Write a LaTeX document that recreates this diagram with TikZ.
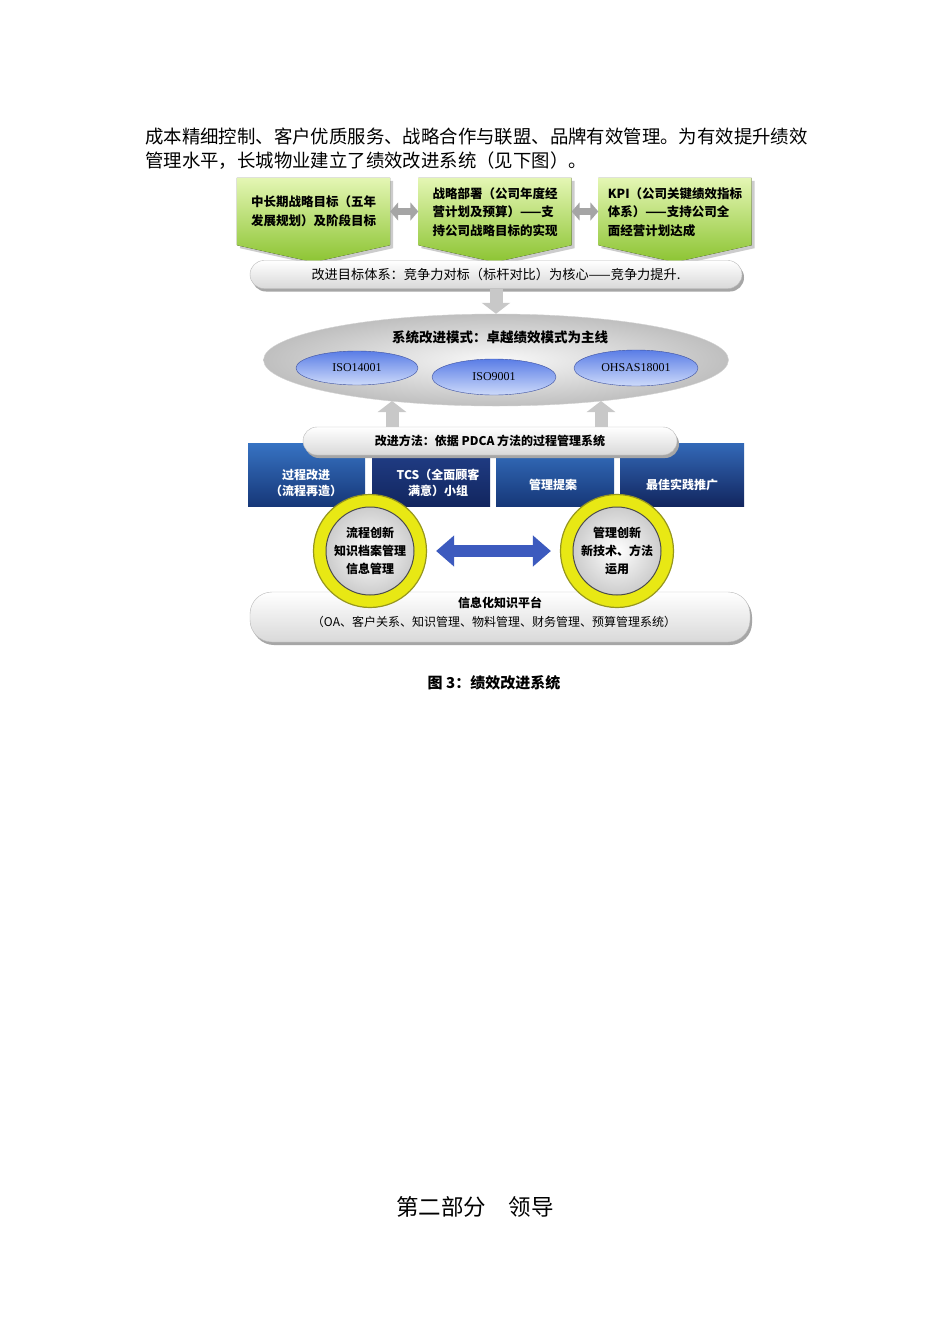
\documentclass[tikz,border=0pt]{standalone}
\usepackage{fontspec}
\setmainfont{Noto Sans CJK SC}
\newfontfamily\isofont{Liberation Serif}
\usetikzlibrary{arrows.meta,shapes.geometric,shadows,backgrounds,calc}

\definecolor{greenhi}{RGB}{228,246,180}
\definecolor{greenlo}{RGB}{140,196,50}
\definecolor{isohi}{RGB}{90,125,230}
\definecolor{isolo}{RGB}{205,218,250}
\definecolor{isoedge}{RGB}{60,80,160}
\definecolor{bluehi}{RGB}{55,115,195}
\definecolor{bluelo}{RGB}{22,55,120}
\definecolor{navyhi}{RGB}{35,65,140}
\definecolor{navylo}{RGB}{18,38,95}
\definecolor{ringyellow}{RGB}{232,232,20}
\definecolor{ringedge}{RGB}{150,150,30}
\definecolor{arrgray}{RGB}{165,165,165}
\definecolor{upgray}{RGB}{200,200,200}
\definecolor{arrblue}{RGB}{60,90,190}

\begin{document}
\begin{tikzpicture}[x=1pt, y=-1pt,
    goalbox/.style={minimum width=153pt, minimum height=67pt, inner sep=0pt, align=left, font=\fontsize{12.5}{18.5}\selectfont\bfseries},
    goalfill/.style={top color=greenhi, bottom color=greenlo, drop shadow={shadow xshift=3pt, shadow yshift=-3pt, opacity=0.4}},
    pill/.style={draw=gray!55, rounded corners=14pt, top color=white, bottom color=gray!30, drop shadow={shadow xshift=2pt, shadow yshift=-3pt, fill=gray!70, opacity=1}},
    isoell/.style={ellipse, draw=isoedge, top color=isohi, bottom color=isolo, inner sep=0pt, font=\isofont\fontsize{12}{14}\selectfont},
    bluebox/.style={minimum height=63pt, inner sep=0pt},
    boxtext/.style={text=white, align=center, font=\fontsize{12}{16.5}\selectfont\bfseries},
    ring/.style={circle, minimum size=113pt, inner sep=0pt, fill=ringyellow, draw=ringedge, line width=1.2pt},
    core/.style={circle, minimum size=88pt, inner sep=0pt, inner color=white, outer color=gray!40, draw=gray!60!black, line width=1pt, align=center, font=\fontsize{12}{18}\selectfont\bfseries},
    grayar/.style={line width=7pt, draw=arrgray, {Triangle[length=8pt,width=18pt]}-{Triangle[length=8pt,width=18pt]}},
    upar/.style={line width=13pt, draw=upgray, -{Triangle[length=11pt,width=28pt]}},
    bluear/.style={line width=12pt, draw=arrblue, {Triangle[length=18pt,width=30pt]}-{Triangle[length=18pt,width=30pt]}, shorten <=9pt, shorten >=9pt}
]
\useasboundingbox (0,0) rectangle (950,1344);
\begin{scope}[on background layer]
    \fill[white] (0,0) rectangle (950,1344);
\end{scope}

% Body text
\node[anchor=west, inner sep=0pt, font=\fontsize{18.4}{25}\selectfont] (line1) at (145,136) {成本精细控制、客户优质服务、战略合作与联盟、品牌有效管理。为有效提升绩效};
\node[anchor=west, inner sep=0pt, font=\fontsize{18.4}{25}\selectfont] (line2) at (145,161) {管理水平，长城物业建立了绩效改进系统（见下图）。};

% Goal boxes
\node[goalbox] (g1) at (313.5,211.5) {中长期战略目标（五年\\发展规划）及阶段目标};
\node[goalbox, text depth=-6pt] (g2) at (495,211.5) {战略部署（公司年度经\\营计划及预算）——支\\持公司战略目标的实现};
\node[goalbox, text depth=-6pt] (g3) at (675,211.5) {KPI（公司关键绩效指标\\体系）——支持公司全\\面经营计划达成};
\begin{scope}[on background layer]
    \foreach \g in {g1,g2,g3} {
        \fill[goalfill] (\g.north west) -- (\g.north east) -- (\g.south east) -- ($(\g.south)+(0,17)$) -- (\g.south west) -- cycle;
    }
\end{scope}
\draw[grayar] (g1) -- (g2);
\draw[grayar] (g2) -- (g3);

% Goal system bar
\node[pill, minimum width=492pt, minimum height=28pt, inner sep=0pt, font=\fontsize{13.2}{15}\selectfont] (bar1) at (496,274.5) {改进目标体系：竞争力对标（标杆对比）为核心——竞争力提升.};

% System mode
\node[ellipse, minimum width=465pt, minimum height=92pt, inner color=gray!5, outer color=gray!50, draw=gray!35] (modes) at (496,360) {};
\node[font=\fontsize{13.5}{15}\selectfont\bfseries] (modetitle) at (500,337) {系统改进模式：卓越绩效模式为主线};
\node[isoell, minimum width=122pt, minimum height=34pt] (iso1) at (357,368) {ISO14001};
\node[isoell, minimum width=124pt, minimum height=36pt] (iso2) at (494,377) {ISO9001};
\node[isoell, minimum width=124pt, minimum height=36pt] (iso3) at (636,368) {OHSAS18001};
\draw[upar] (bar1) -- (modes);

% Methods
\node[bluebox, minimum width=117pt, top color=bluehi, bottom color=bluelo] (b1) at (306.5,474.5) {};
\node[bluebox, minimum width=118pt, top color=navyhi, bottom color=navylo] (b2) at (431,474.5) {};
\node[bluebox, minimum width=118pt, top color=bluehi, bottom color=bluelo] (b3) at (555,474.5) {};
\node[bluebox, minimum width=124pt, top color=bluehi!80!navyhi, bottom color=navylo] (b4) at (682,474.5) {};
\node[boxtext] (b1t) at (306,483) {过程改进\\（流程再造）};
\node[boxtext] (b2t) at (438,483) {TCS（全面顾客\\满意）小组};
\node[boxtext] (b3t) at (553,485) {管理提案};
\node[boxtext] (b4t) at (682,485) {最佳实践推广};
\node[pill, minimum width=374pt, minimum height=28pt, inner sep=0pt, font=\fontsize{12}{14}\selectfont\bfseries] (bar2) at (490,441) {改进方法：依据 PDCA 方法的过程管理系统};
\coordinate (m1) at (392,401);
\coordinate (m2) at (601,401);
\draw[upar] (bar2.north -| m1) -- (m1);
\draw[upar] (bar2.north -| m2) -- (m2);

% Knowledge platform
\node[pill, rounded corners=22pt, minimum width=500pt, minimum height=50pt] (platform) at (500,617) {};
\node[font=\fontsize{12}{14}\selectfont\bfseries] (plattitle) at (500,603) {信息化知识平台};
\node[font=\fontsize{12}{14}\selectfont] (platsub) at (494,622) {（OA、客户关系、知识管理、物料管理、财务管理、预算管理系统）};

% Innovation rings
\node[ring] (r1) at (370,551) {};
\node[ring] (r2) at (617,551) {};
\node[core] (c1) at (370,551) {流程创新\\知识档案管理\\信息管理};
\node[core] (c2) at (617,551) {管理创新\\新技术、方法\\运用};
\draw[bluear] (r1) -- (r2);

% Caption and heading
\node[font=\fontsize{15}{18}\selectfont\bfseries] (caption) at (494,683) {图 3：绩效改进系统};
\node[font=\fontsize{22.5}{26}\selectfont] (heading) at (475,1207) {第二部分　领导};
\end{tikzpicture}
\end{document}
